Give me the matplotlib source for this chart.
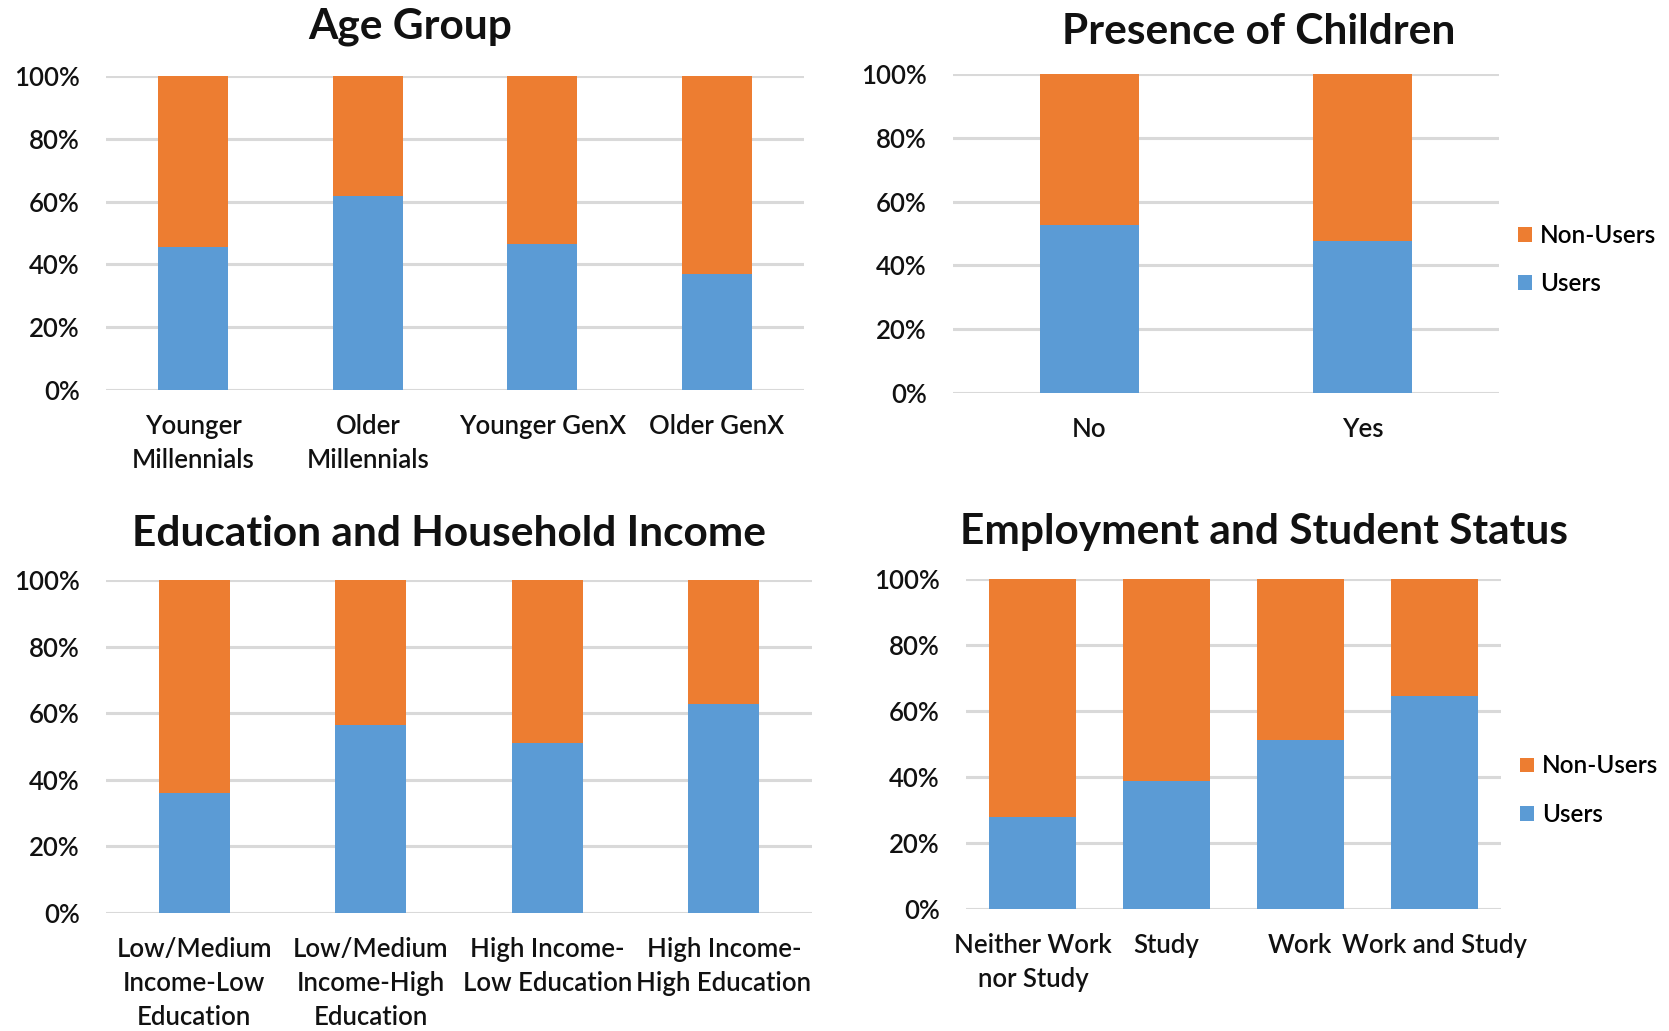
import numpy as np
import matplotlib.pyplot as plt

plt.rcParams['font.family'] = ['Lato', 'DejaVu Sans']

# data (share of Users, Non-Users is the rest)
age_groups = ['Younger\nMillennials', 'Older\nMillennials', 'Younger GenX', 'Older GenX']
age_users = [45.6, 61.8, 46.4, 37.1]

children = ['No', 'Yes']
children_users = [52.6, 47.5]

edu_income = ['Low/Medium\nIncome-Low\nEducation', 'Low/Medium\nIncome-High\nEducation',
              'High Income-\nLow Education', 'High Income-\nHigh Education']
edu_users = [36.0, 56.4, 51.0, 62.9]

employment = ['Neither Work\nnor Study', 'Study', 'Work', 'Work and Study']
emp_users = [28.0, 38.7, 51.1, 64.6]

blue = '#5B9BD5'
orange = '#ED7D31'
grid_col = '#D9D9D9'

W, H = 1669, 1031
fig = plt.figure(figsize=(W / 100, H / 100), dpi=100)


def px_axes(left, right, bottom0, top100):
    # pixel box -> figure fraction
    return fig.add_axes([left / W, 1 - bottom0 / H, (right - left) / W, (bottom0 - top100) / H])


def stacked(ax, cats, users, width):
    users = np.array(users)
    x = np.arange(len(cats))
    ax.bar(x, users, width, color=blue, label='Users', zorder=3)
    ax.bar(x, 100 - users, width, bottom=users, color=orange, label='Non-Users', zorder=3)
    ax.set_xlim(-0.5, len(cats) - 0.5)
    ax.set_ylim(0, 100)
    ax.set_yticks(np.arange(0, 101, 20))
    ax.set_yticklabels([f'{v}%' for v in range(0, 101, 20)], fontweight='semibold')
    ax.set_xticks(x)
    ax.set_xticklabels(cats, linespacing=1.45, fontweight='semibold')
    for s in ax.spines.values():
        s.set_visible(False)
    ax.yaxis.grid(True, color=grid_col, linewidth=2.2, zorder=0)
    ax.tick_params(axis='both', length=0, labelsize=18.5, colors='#111111')
    ax.tick_params(axis='x', pad=17)
    ax.tick_params(axis='y', pad=19)
    ax.set_axisbelow(True)


ax1 = px_axes(106, 804, 390, 76)
stacked(ax1, age_groups, age_users, 0.4)

ax2 = px_axes(953, 1499, 393, 74)
stacked(ax2, children, children_users, 0.365)

ax3 = px_axes(106, 812, 913, 580)
stacked(ax3, edu_income, edu_users, 0.4)

ax4 = px_axes(966, 1501, 909, 579)
stacked(ax4, employment, emp_users, 0.65)

for ax, yc in [(ax2, 0.418), (ax4, 0.36)]:
    h, l = ax.get_legend_handles_labels()
    ax.legend(h[::-1], l[::-1], loc='center left', bbox_to_anchor=(1.0, yc), frameon=False,
              prop={'size': 17.5, 'weight': 'semibold'}, handlelength=0.55, handleheight=0.55,
              handletextpad=0.35, labelspacing=1.05, borderaxespad=0.4)

titles = [('Age Group', 410, 27), ('Presence of Children', 1259, 32),
          ('Education and Household Income', 449, 534), ('Employment and Student Status', 1264, 532)]
for t, x, y in titles:
    fig.text(x / W, 1 - y / H, t, ha='center', va='center', fontsize=30.5, fontweight='bold', color='#111111')

fig.savefig('out.png', dpi=100)
